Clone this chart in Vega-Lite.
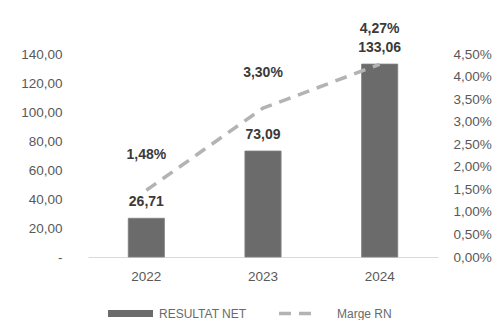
{
  "$schema": "https://vega.github.io/schema/vega-lite/v6.json",
  "autosize": "none",
  "width": 350,
  "height": 203,
  "padding": {"left": 88, "top": 54, "right": 58, "bottom": 63},
  "background": "white",
  "config": {
    "locale": {"number": {"decimal": ",", "thousands": " ", "grouping": [3], "currency": ["", " €"], "percent": "%"}},
    "view": {"stroke": null},
    "font": "Liberation Sans",
    "axis": {"labelFont": "Liberation Sans", "labelFontSize": 13.5, "labelColor": "#595959", "grid": false, "ticks": false, "title": null}
  },
  "data": {"values": [
    {"annee": "2022", "resultat": 26.71, "marge": 0.0148},
    {"annee": "2023", "resultat": 73.09, "marge": 0.0330},
    {"annee": "2024", "resultat": 133.06, "marge": 0.0427}
  ]},
  "encoding": {
    "x": {"field": "annee", "type": "nominal", "scale": {"paddingInner": 0.69, "paddingOuter": 0.345},
      "axis": {"labelAngle": 0, "domainColor": "#d9d9d9", "domainWidth": 1, "labelPadding": 12}}
  },
  "layer": [
    {
      "encoding": {
        "y": {"field": "resultat", "type": "quantitative", "scale": {"domain": [0, 140]},
          "axis": {"values": [0, 20, 40, 60, 80, 100, 120, 140], "domain": false, "labelPadding": 26, "labelOverlap": false,
            "labelExpr": "datum.value == 0 ? '-  ' : format(datum.value, '.2f')"}}
      },
      "layer": [
        {"mark": {"type": "bar", "stroke": "#808080", "strokeWidth": 0.8},
          "encoding": {
            "fill": {"datum": "RESULTAT NET", "type": "nominal", "scale": {"domain": ["RESULTAT NET"], "range": ["#6b6b6b"]},
              "legend": {"orient": "none", "legendX": 20, "legendY": 237, "title": null, "symbolType": "M-1,-0.155H1V0.155H-1Z",
                "symbolSize": 2025, "symbolStrokeWidth": 0, "labelFontSize": 12, "labelColor": "#6a6a6a", "labelOffset": 6}}
          }},
        {"mark": {"type": "text", "dy": -16, "fontWeight": "bold", "fontSize": 14, "color": "#3a3a3a"},
          "encoding": {
            "text": {"field": "resultat", "type": "quantitative", "format": ".2f"}
          }}
      ]
    },
    {
      "encoding": {
        "y": {"field": "marge", "type": "quantitative", "scale": {"domain": [0, 0.045]},
          "axis": {"orient": "right", "values": [0, 0.005, 0.01, 0.015, 0.02, 0.025, 0.03, 0.035, 0.04, 0.045], "format": ".2%", "domain": false, "labelPadding": 15, "labelOverlap": false}}
      },
      "layer": [
        {"mark": {"type": "line", "strokeWidth": 3.5, "strokeDash": [12, 8]},
          "encoding": {
            "stroke": {"datum": "Marge RN", "type": "nominal", "scale": {"domain": ["Marge RN"], "range": ["#b3b3b3"]},
              "legend": {"orient": "none", "legendX": 189, "legendY": 240, "title": null, "symbolType": "stroke", "symbolSize": 1225,
                "symbolStrokeWidth": 3.5, "symbolDash": [12, 8], "labelFontSize": 12, "labelColor": "#6a6a6a", "labelOffset": 21}}
          }},
        {"mark": {"type": "text", "dy": -35, "fontWeight": "bold", "fontSize": 14, "color": "#3a3a3a"},
          "encoding": {
            "text": {"field": "marge", "type": "quantitative", "format": ".2%"}
          }}
      ]
    }
  ],
  "resolve": {"scale": {"y": "independent"}}
}
